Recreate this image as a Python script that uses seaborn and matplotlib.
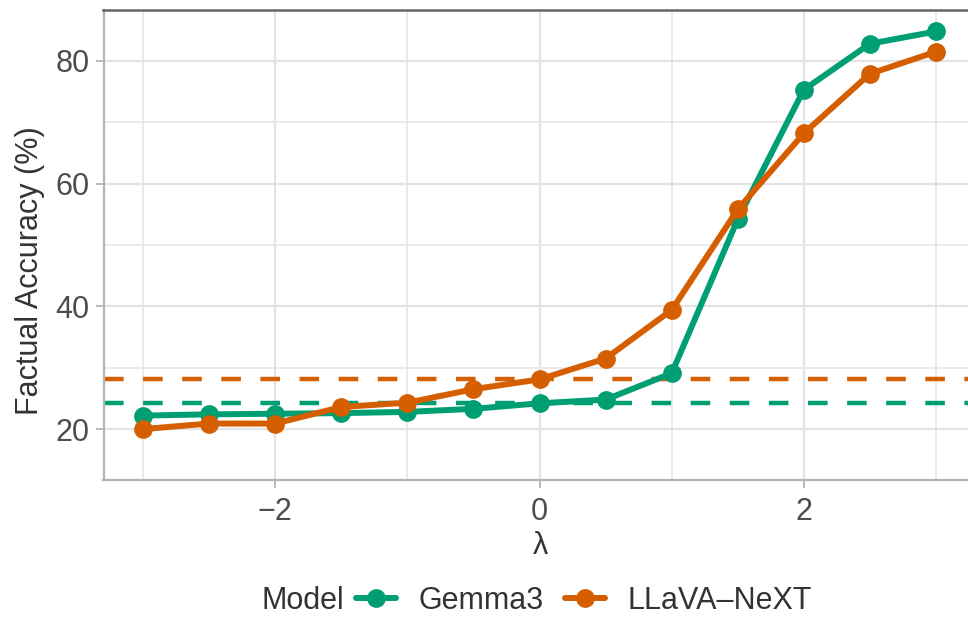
import numpy as np
import pandas as pd
import matplotlib
matplotlib.use("Agg")
import matplotlib.pyplot as plt
import seaborn as sns
from matplotlib.lines import Line2D

# ---- data ----
lambdas = [-3, -2.5, -2, -1.5, -1, -0.5, 0, 0.5, 1, 1.5, 2, 2.5, 3]
gemma3 = [22.2, 22.4, 22.5, 22.6, 22.8, 23.3, 24.2, 24.8, 29.1, 54.2, 75.3, 82.8, 84.8]
llava = [20.0, 20.9, 20.9, 23.6, 24.3, 26.5, 28.1, 31.5, 39.4, 55.8, 68.2, 77.9, 81.5]
models = ["Gemma3", "LLaVA\u2013NeXT"]
baselines = [24.2, 28.1]
colors = ["#009E73", "#D55E00"]

df = pd.DataFrame({
    "lambda": lambdas * 2,
    "acc": gemma3 + llava,
    "Model": [models[0]] * len(lambdas) + [models[1]] * len(lambdas),
})

sns.set_theme(style="white")
plt.rcParams["font.family"] = ["Liberation Sans", "DejaVu Sans"]

FS = 22
W, H = 968, 617
fig = plt.figure(figsize=(W / 100, H / 100), dpi=100)
left_px, right_px, top_px, bot_px = 103.5, 975.6, 10, 480
ax = fig.add_axes([left_px / W, 1 - bot_px / H, (right_px - left_px) / W, (bot_px - top_px) / H])

# grid
for x in [-2, 0, 2]:
    ax.axvline(x, color="#E3E3E3", lw=1.6, zorder=0)
for x in [-3, -1, 1, 3]:
    ax.axvline(x, color="#E8E8E8", lw=1.3, zorder=0)
for y in [20, 40, 60, 80]:
    ax.axhline(y, color="#E3E3E3", lw=1.6, zorder=0)
for y in [30, 50, 70]:
    ax.axhline(y, color="#E8E8E8", lw=1.3, zorder=0)

# baselines
for b, c in zip(baselines, colors):
    ax.axhline(b, color=c, lw=3.2, dashes=(4.4, 4.4), dash_capstyle="butt", zorder=1)

sns.lineplot(data=df, x="lambda", y="acc", hue="Model", palette=dict(zip(models, colors)),
             marker="o", markersize=13.5, markeredgewidth=0, linewidth=4.3, ax=ax,
             legend=False, zorder=3)

ax.set_xlim(-3.3, 3.3)
ax.set_ylim(11.7, 88.3)
ax.set_xticks([-2, 0, 2])
ax.set_xticklabels(["\u22122", "0", "2"])
ax.set_yticks([20, 40, 60, 80])
ax.tick_params(axis="both", which="major", length=6, width=1.3, color="#B3B3B3",
               labelsize=FS, labelcolor="#4D4D4D", pad=4, direction="out")
ax.tick_params(axis="x", bottom=True, pad=6)
ax.tick_params(axis="y", left=True)

for s in ["left", "bottom"]:
    ax.spines[s].set_color("#B3B3B3")
    ax.spines[s].set_linewidth(1.6)
ax.spines["top"].set_color("#666666")
ax.spines["top"].set_linewidth(1.8)
ax.spines["right"].set_visible(False)

ax.set_xlabel("\u03bb", fontsize=FS, color="#333333")
ax.xaxis.set_label_coords((540 - left_px) / (right_px - left_px), -(546 - bot_px) / (bot_px - top_px))
ax.xaxis.label.set_va("center")
ax.set_ylabel("Factual Accuracy (%)", fontsize=FS, color="#333333")
ax.yaxis.set_label_coords((30 - left_px) / (right_px - left_px), (bot_px - 271) / (bot_px - top_px))
ax.yaxis.label.set_va("center")

# legend at bottom
fig.text(261 / W, 1 - 601 / H, "Model", fontsize=FS, color="#333333", ha="left", va="center")
handles = [Line2D([0], [0], color=c, lw=4.3, marker="o", markersize=13.5, markeredgewidth=0)
           for c in colors]
fig.legend(handles, models, loc="center left", bbox_to_anchor=(356 / W, 1 - 601 / H),
           ncol=2, frameon=False, fontsize=FS, handlelength=1.3, handletextpad=0.75,
           columnspacing=0.7, borderpad=0, borderaxespad=0, labelcolor="#333333")

fig.savefig("out.png", dpi=100)
